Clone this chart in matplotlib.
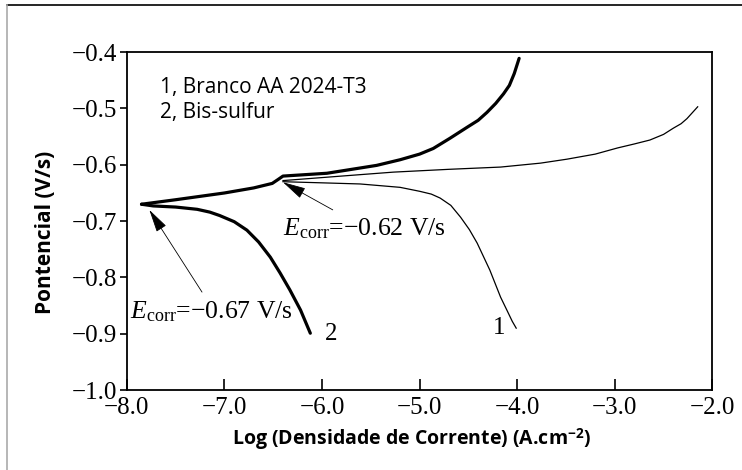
import matplotlib.pyplot as plt
from matplotlib.lines import Line2D

# curve 2 (Bis-sulfur), thick line
x2_anodic = [-7.85, -7.5, -7.0, -6.7, -6.51, -6.45, -6.40, -5.95, -5.44, -5.20, -5.00,
             -4.86, -4.69, -4.51, -4.40, -4.31, -4.22, -4.14, -4.08, -4.03, -3.98]
y2_anodic = [-0.670, -0.662, -0.650, -0.641, -0.633, -0.626, -0.620, -0.615, -0.601, -0.591, -0.581,
             -0.571, -0.553, -0.533, -0.521, -0.507, -0.491, -0.474, -0.459, -0.438, -0.411]
x2_cathodic = [-7.85, -7.73, -7.50, -7.28, -7.15, -7.05, -6.90, -6.77, -6.65, -6.53,
               -6.43, -6.33, -6.22, -6.12]
y2_cathodic = [-0.670, -0.673, -0.675, -0.679, -0.684, -0.690, -0.701, -0.716, -0.737, -0.764,
               -0.792, -0.822, -0.858, -0.899]

# curve 1 (AA 2024-T3 blank), thin line
x1_anodic = [-6.40, -5.80, -5.27, -4.70, -4.17, -3.76, -3.49, -3.20, -2.97, -2.80,
             -2.64, -2.50, -2.40, -2.32, -2.26, -2.15]
y1_anodic = [-0.628, -0.620, -0.613, -0.608, -0.604, -0.597, -0.590, -0.581, -0.570, -0.563,
             -0.556, -0.546, -0.535, -0.527, -0.518, -0.497]
x1_cathodic = [-6.40, -6.00, -5.61, -5.20, -5.00, -4.88, -4.79, -4.68, -4.58, -4.49,
               -4.41, -4.28, -4.17, -4.10, -4.05, -4.01]
y1_cathodic = [-0.630, -0.632, -0.634, -0.640, -0.647, -0.652, -0.659, -0.672, -0.693, -0.715,
               -0.739, -0.787, -0.835, -0.860, -0.878, -0.890]

ecorr1 = -0.62
ecorr2 = -0.67
legend_lines = ['1, Branco AA 2024-T3', '2, Bis-sulfur']
xticks = [-8.0, -7.0, -6.0, -5.0, -4.0, -3.0, -2.0]
yticks = [-0.4, -0.5, -0.6, -0.7, -0.8, -0.9, -1.0]

plt.rcParams['mathtext.fontset'] = 'custom'
plt.rcParams['mathtext.rm'] = 'Liberation Serif'
plt.rcParams['mathtext.it'] = 'Liberation Serif:italic'
plt.rcParams['mathtext.sf'] = 'Open Sans:bold'

serif = 'Liberation Serif'
sans = 'Open Sans'

fig = plt.figure(figsize=(7.42, 4.7), dpi=100)
ax = fig.add_axes([0.171, 0.170, 0.789, 0.719])

ax.plot(x2_anodic, y2_anodic, color='black', lw=2.3, solid_capstyle='round',
        solid_joinstyle='round')
ax.plot(x2_cathodic, y2_cathodic, color='black', lw=2.3, solid_capstyle='round',
        solid_joinstyle='round')
ax.plot(x1_anodic, y1_anodic, color='black', lw=0.9)
ax.plot(x1_cathodic, y1_cathodic, color='black', lw=0.9)

ax.set_xlim(-8.0, -2.0)
ax.set_ylim(-1.0, -0.4)
ax.set_xticks(xticks)
ax.set_yticks(yticks)
ax.set_xticklabels(['\u2212%.1f' % abs(v) for v in xticks])
ax.set_yticklabels(['\u2212%.1f' % abs(v) for v in yticks])
ax.tick_params(axis='x', direction='in', length=8, width=1.2, pad=5)
ax.tick_params(axis='y', direction='out', length=5, width=1.2, pad=2)
for lab in ax.get_xticklabels() + ax.get_yticklabels():
    lab.set_fontfamily(serif)
    lab.set_fontsize(18)
for sp in ax.spines.values():
    sp.set_linewidth(1.3)

ax.set_ylabel('Pontencial (V/s)', fontfamily=sans, fontweight='bold', fontsize=15)
ax.yaxis.set_label_coords(-0.121, 0.467)
ax.set_xlabel(r'Log (Densidade de Corrente) (A.cm$^{\mathsf{-2}}$)', fontfamily=sans,
              fontweight='bold', fontsize=14)
ax.xaxis.set_label_coords(0.486, -0.109)

ax.text(-7.66, -0.462, legend_lines[0], fontfamily=sans, fontsize=15, va='center')
ax.text(-7.66, -0.507, legend_lines[1], fontfamily=sans, fontsize=15, va='center')

# Ecorr callouts
arrow = dict(arrowstyle='-|>,head_length=0.9,head_width=0.22', color='black', lw=0.6,
             mutation_scale=16, shrinkA=0, shrinkB=0)
ax.annotate('', xy=(-6.40, ecorr1 - 0.011), xytext=(-5.89, -0.680), arrowprops=arrow)
ax.text(-6.40, -0.725, '$E_{\\rm corr}$=\u2212%.2f V/s' % abs(ecorr1),
        fontfamily=serif, fontsize=18.5, va='baseline')
ax.annotate('', xy=(-7.77, ecorr2 - 0.01), xytext=(-7.23, -0.826), arrowprops=arrow)
ax.text(-7.97, -0.872, '$E_{\\rm corr}$=\u2212%.2f V/s' % abs(ecorr2),
        fontfamily=serif, fontsize=18.5, va='baseline')

ax.text(-5.97, -0.90, '2', fontfamily=serif, fontsize=18, va='center')
ax.text(-4.25, -0.89, '1', fontfamily=serif, fontsize=18, va='center')

# frame lines along the top and left edge of the image
fig.add_artist(Line2D([7 / 742, 1], [1 - 5 / 470, 1 - 5 / 470], transform=fig.transFigure,
                      color='black', lw=1.2))
fig.add_artist(Line2D([7 / 742, 7 / 742], [0, 1 - 5 / 470], transform=fig.transFigure,
                      color='#aaaaaa', lw=1.2))

fig.savefig('out.png', dpi=100)
